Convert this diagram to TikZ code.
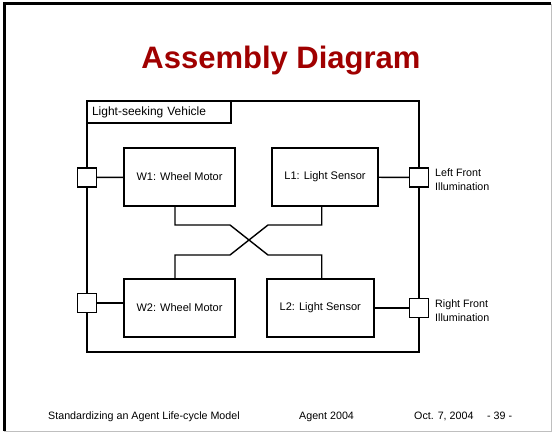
\documentclass[tikz,border=0pt]{standalone}
\usepackage{fontspec}
\setmainfont{Liberation Sans}
\usepackage{xcolor}
\usepackage{tikz}

\definecolor{titlered}{RGB}{160,0,0}

\tikzset{
	part/.style={draw, line width=1.4pt, minimum height=58pt, inner sep=0pt, font=\fontsize{11}{13}\selectfont},
	port/.style={draw, line width=1.4pt, fill=white, minimum width=19pt, minimum height=19pt, inner sep=0pt},
	wire/.style={line width=1.4pt},
	portlabel/.style={anchor=west, align=left, inner sep=0pt, font=\fontsize{10.7}{14.3}\selectfont},
	footer/.style={anchor=base west, inner sep=0pt, font=\fontsize{10.7}{13}\selectfont}
}

\begin{document}
\begin{tikzpicture}[x=1pt, y=-1pt]

	\useasboundingbox (0,0) rectangle (555,436);
	\fill[white] (0,0) rectangle (555,436);
	\draw[black!25, line width=1pt] (551,4)--(551,431)--(4,431);
	\draw[line width=3pt] (4,431)--(4,4)--(551,4);

	\node[anchor=base, text=titlered, inner sep=0pt, font=\fontsize{31}{36}\selectfont\bfseries] (title) at (281,69) {Assembly Diagram};

	\node[draw, line width=1.4pt, minimum width=332pt, minimum height=251pt, inner sep=0pt] (veh) at (253,226.5) {};
	\node[draw, line width=1.4pt, anchor=north west, minimum height=22pt, text width=134pt, inner xsep=5pt, inner ysep=0pt, align=left, font=\fontsize{12}{14}\selectfont] (tab) at (veh.north west) {Light-seeking Vehicle};

	\node[part, minimum width=111pt] (w1) at (179.5,177) {W1: Wheel Motor};
	\node[part, minimum width=106pt] (l1) at (325,177) {L1: Light Sensor};
	\node[part, minimum width=111pt] (w2) at (179.5,308) {W2: Wheel Motor};
	\node[part, minimum width=107pt] (l2) at (320.3,308) {L2: Light Sensor};

	\node[port] (pw1) at (87,177.5) {};
	\node[port] (pw2) at (87,303) {};
	\node[port] (pl1) at (419,177.5) {};
	\node[port] (pl2) at (419,308) {};

	\draw[wire] (pw1) -- (w1);
	\draw[wire] (pw2.east) -- (pw2.east -| w2.west);
	\draw[wire] (l1) -- (pl1);
	\draw[wire] (l2) -- (pl2);

	\draw[wire] ([xshift=-4.5pt]w1.south) |- (230,225) -- (268,255) -| ([xshift=1.4pt]l2.north);
	\draw[wire] ([xshift=-3.3pt]l1.south) |- (268,225) -- (230,255) -| ([xshift=-4.5pt]w2.north);

	\node[portlabel] (lfront) at (435,180) {Left Front\\Illumination};
	\node[portlabel] (rfront) at (435,310.5) {Right Front\\Illumination};

	\node[footer] (fleft) at (48,419) {Standardizing an Agent Life-cycle Model};
	\node[footer] (fmid) at (299,419) {Agent 2004};
	\node[footer] (fdate) at (414,419) {Oct. 7, 2004};
	\node[footer] (fpage) at (487,419) {- 39 -};

\end{tikzpicture}
\end{document}
